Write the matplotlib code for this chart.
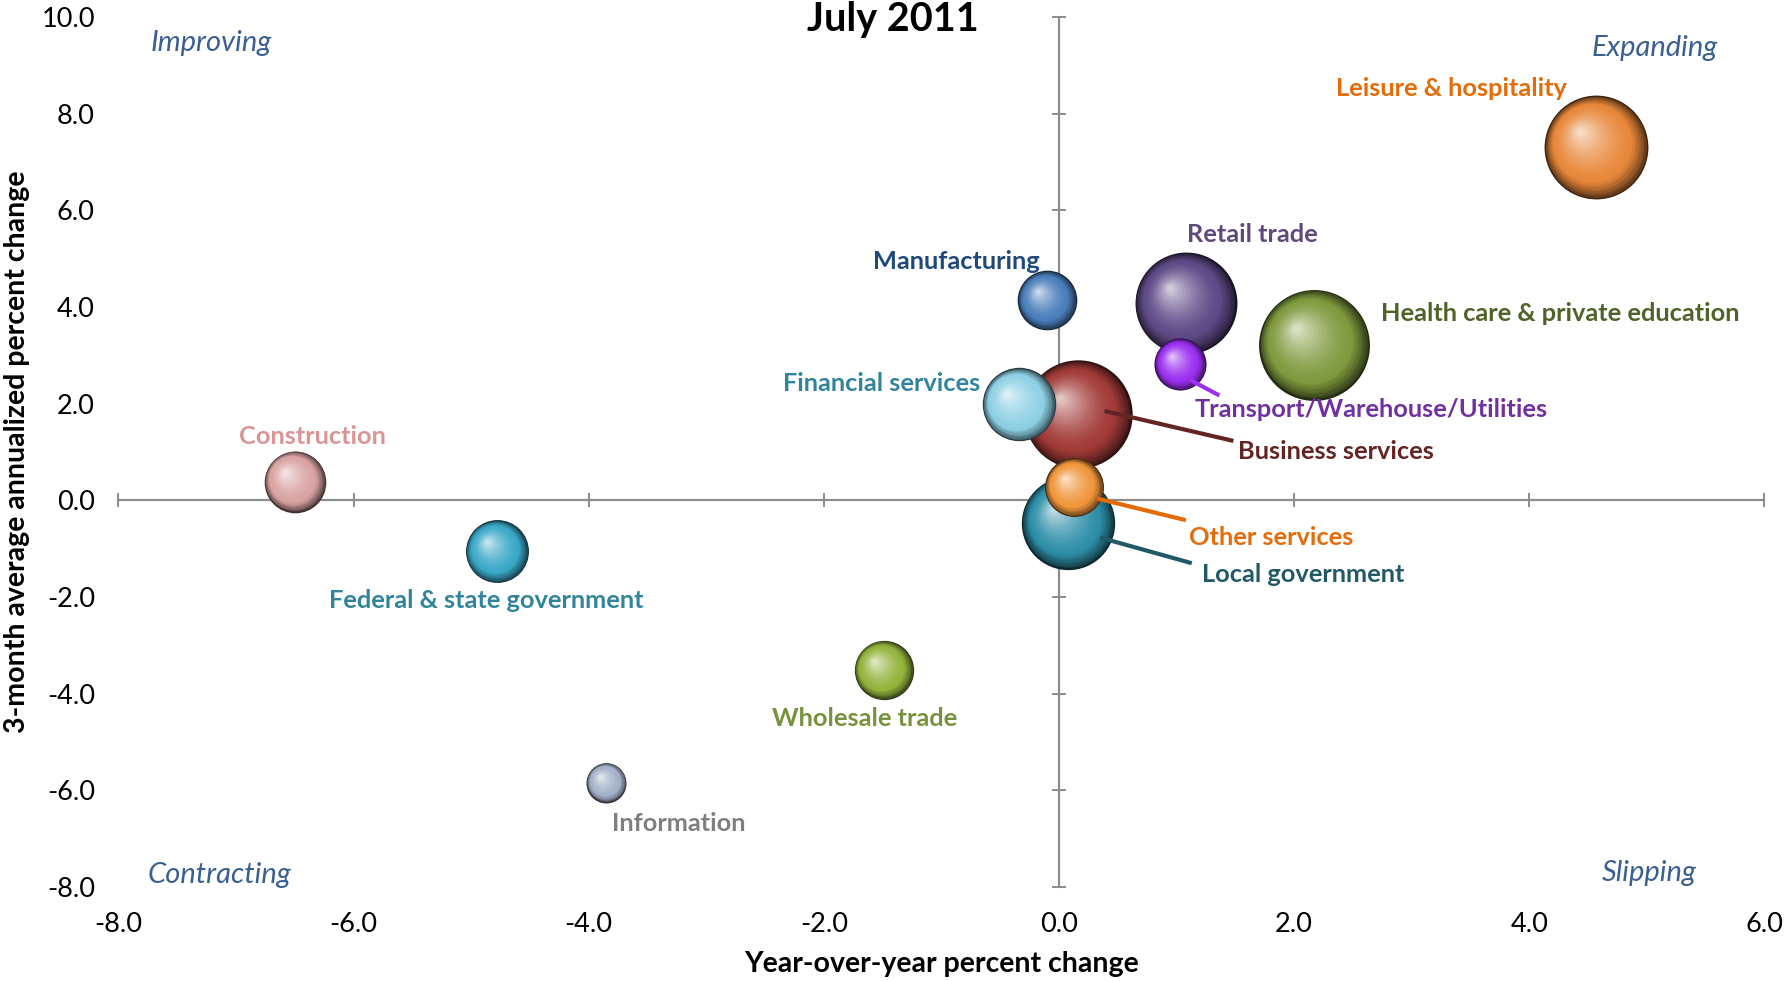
import numpy as np
import matplotlib
matplotlib.use("Agg")
import matplotlib.pyplot as plt
from matplotlib.colors import to_rgb
from matplotlib.transforms import offset_copy
from matplotlib.ticker import FuncFormatter

plt.rcParams['font.family'] = ['Lato', 'DejaVu Sans']

# ---- data -------------------------------------------------------------
sectors = [
    "Leisure & hospitality", "Retail trade", "Health care & private education",
    "Manufacturing", "Business services", "Financial services",
    "Local government", "Other services", "Transport/Warehouse/Utilities",
    "Construction", "Federal & state government", "Wholesale trade", "Information",
]
yoy_change = [4.57, 1.08, 2.17, -0.10, 0.16, -0.34, 0.08, 0.13, 1.03, -6.50, -4.78, -1.49, -3.85]
three_month_change = [7.31, 4.08, 3.22, 4.14, 1.78, 1.99, -0.46, 0.27, 2.82, 0.39, -1.05, -3.51, -5.84]
bubble_size = [27.0, 26.0, 30.8, 8.9, 29.4, 13.5, 21.8, 8.7, 6.8, 9.5, 9.9, 8.8, 4.0]

x_ticks = [-8.0, -6.0, -4.0, -2.0, 0.0, 2.0, 4.0, 6.0]
y_ticks = [-8.0, -6.0, -4.0, -2.0, 0.0, 2.0, 4.0, 6.0, 8.0, 10.0]
quadrants = ["Improving", "Expanding", "Contracting", "Slipping"]

# ---- styling ----------------------------------------------------------
sphere_colors = ["#E8883A", "#5E4A87", "#7F9A3E", "#4A7EBB", "#A23B38", "#8ED0E4",
                 "#2E8FA8", "#F0963C", "#9B30F0", "#D9A3A2", "#3AA8C8", "#94B43C", "#A3B0C8"]
label_colors = ["#E36C09", "#5F497A", "#4F6228", "#1F497D", "#632423", "#31849B",
                "#215967", "#E36C09", "#7030A0", "#D99594", "#31849B", "#76923C", "#7F7F7F"]

# label anchor (x, y, ha) in data units, and optional leader line end points
label_layout = [
    (2.36, 8.52, "left"), (1.085, 5.50, "left"), (2.74, 3.87, "left"),
    (-0.165, 4.95, "right"), (1.527, 1.02, "left"), (-0.67, 2.41, "right"),
    (1.22, -1.53, "left"), (1.11, -0.77, "left"), (1.153, 1.87, "left"),
    (-6.35, 1.32, "center"), (-4.87, -2.08, "center"), (-1.65, -4.51, "center"),
    (-3.80, -6.68, "left"),
]
leaders = {
    4: ((0.387, 1.484), (1.85, 1.23)),
    6: ((0.35, 1.13), (-0.77, -1.30)),
    7: ((0.322, 1.08), (0.04, -0.41)),
    8: ((1.11, 1.365), (2.50, 2.17)),
}
quadrant_layout = [(-7.21, 9.46), (5.07, 9.36), (-7.14, -7.76), (5.02, -7.71)]
AREA_SCALE = 207.0   # points^2 per bubble-size unit

fig = plt.figure(figsize=(17.87, 9.81), dpi=100)
ax = fig.add_axes([0.0663, 0.0958, 0.9210, 0.8868])
ax.set_xlim(-8, 6)
ax.set_ylim(-8, 10)

# axes crossing at the origin, labels kept at the outer edges
for side in ("top", "right"):
    ax.spines[side].set_visible(False)
ax.spines["left"].set_position(("data", 0))
ax.spines["bottom"].set_position(("data", 0))
for side in ("left", "bottom"):
    ax.spines[side].set_color("#8C8C8C")
    ax.spines[side].set_linewidth(1.6)
ax.set_xticks(x_ticks)
ax.set_yticks(y_ticks)
ax.tick_params(direction="inout", length=10, width=1.4, color="#8C8C8C",
               labelleft=False, labelbottom=False)

fmt = FuncFormatter(lambda v, _: f"{v:.1f}")
secx = ax.secondary_xaxis("bottom")
secx.set_xticks(x_ticks)
secx.xaxis.set_major_formatter(fmt)
secx.spines["bottom"].set_visible(False)
secx.tick_params(length=0, pad=18, labelsize=19.5)
secy = ax.secondary_yaxis("left")
secy.set_yticks(y_ticks)
secy.yaxis.set_major_formatter(fmt)
secy.spines["left"].set_visible(False)
secy.tick_params(length=0, pad=17, labelsize=19.5)

secx.set_xlabel("Year-over-year percent change", fontsize=20.5, fontweight="bold", labelpad=10)
secy.set_ylabel("3-month average annualized percent change", fontsize=20.5,
                fontweight="bold", labelpad=8)

fig.text(0.4994, 0.999, "July 2011", fontsize=28.5, fontweight="bold",
         ha="center", va="top")


def mix(a, b, t):
    return tuple(np.array(a) * (1 - t) + np.array(b) * t)


def sphere(x, y, size, color, z, n=34):
    base = np.array(to_rgb(color))
    dark = base * 0.28
    light = base + (1 - base) * 0.70
    area = size * AREA_SCALE
    rad = np.sqrt(area) / 2.0
    for k in range(n):
        t = k / (n - 1)
        f = 1.0 - 0.94 * t
        if t < 0.25:
            c = mix(dark, base, (t / 0.25) ** 0.7)
        else:
            c = mix(base, light, ((t - 0.25) / 0.75) ** 1.5)
        dx = -0.32 * rad * t
        dy = 0.30 * rad * t
        tr = offset_copy(ax.transData, fig=fig, x=dx, y=dy, units="points")
        ax.scatter([x], [y], s=area * f * f, color=c,
                   linewidths=0, transform=tr, zorder=z)


for i in range(len(sectors)):
    sphere(yoy_change[i], three_month_change[i], bubble_size[i], sphere_colors[i], 10 + i)

for i, (lx, ly) in leaders.items():
    ax.plot(lx, ly, color=label_colors[i] if i != 8 else "#9B30F0", lw=3,
            solid_capstyle="butt", zorder=40)

for i, name in enumerate(sectors):
    lx, ly, ha = label_layout[i]
    ax.text(lx, ly, name, color=label_colors[i], fontsize=18.3, fontweight="bold",
            ha=ha, va="center", zorder=50)

for (qx, qy), q in zip(quadrant_layout, quadrants):
    ax.text(qx, qy, q, color="#3A5F91", fontsize=21, style="italic",
            ha="center", va="center", zorder=50)

fig.savefig("out.png", dpi=100)
